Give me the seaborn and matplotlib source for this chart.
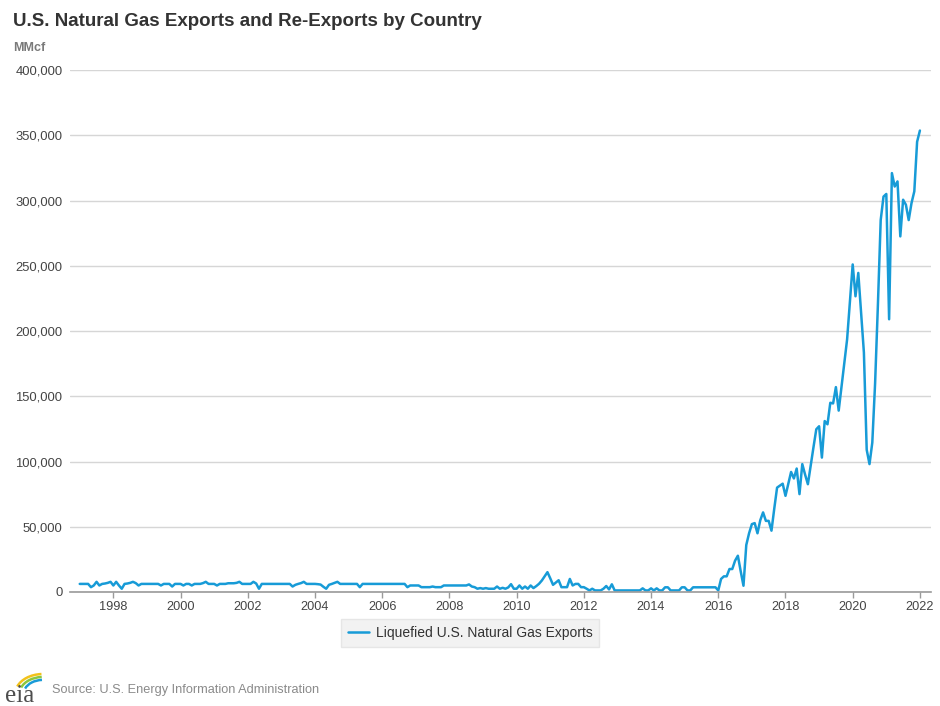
import pandas as pd
import seaborn as sns
import matplotlib.pyplot as plt
from matplotlib.patches import Arc

# Monthly liquefied U.S. natural gas exports, MMcf
lng_1997 = [6200, 6200, 6200, 6200, 3700, 5000, 7800, 5000, 6200, 6500, 7000, 7800]
lng_1998 = [5000, 7800, 5000, 2500, 6200, 6500, 7000, 7800, 6800, 5000, 6200, 6200]
lng_1999 = [6200, 6200, 6200, 6200, 6200, 5000, 6200, 6200, 6200, 4200, 6200, 6200]
lng_2000 = [6200, 5000, 6200, 6200, 5000, 6200, 6200, 6200, 6800, 7800, 6200, 6200]
lng_2001 = [6200, 5000, 6200, 6200, 6200, 6700, 6700, 6700, 7000, 7800, 6200, 6200]
lng_2002 = [6200, 6200, 7800, 6500, 2500, 6200, 6200, 6200, 6200, 6200, 6200, 6200]
lng_2003 = [6200, 6200, 6200, 6200, 4200, 5500, 6200, 6800, 7800, 6200, 6200, 6200]
lng_2004 = [6200, 6000, 5700, 4000, 2500, 5500, 6200, 7000, 7800, 6200, 6200, 6200]
lng_2005 = [6200, 6200, 6200, 6200, 3700, 6200, 6200, 6200, 6200, 6200, 6200, 6200]
lng_2006 = [6200, 6200, 6200, 6200, 6200, 6200, 6200, 6200, 6200, 3700, 5000, 5000]
lng_2007 = [5000, 5000, 3700, 3700, 3700, 3700, 4200, 3700, 3700, 3700, 5000, 5000]
lng_2008 = [5000, 5000, 5000, 5000, 5000, 5000, 5000, 5800, 4200, 3700, 2500, 3000]
lng_2009 = [2500, 3000, 2500, 2500, 2500, 4200, 2500, 3200, 2500, 3500, 6000, 2500]
lng_2010 = [2500, 5000, 2500, 4200, 2500, 5000, 3000, 4500, 6300, 8800, 12000, 15200]
lng_2011 = [10500, 5500, 7200, 9000, 3700, 3700, 3700, 10000, 5000, 6200, 6200, 3700]
lng_2012 = [3700, 2500, 1200, 2500, 1200, 1200, 1200, 2500, 4600, 2000, 5900, 1200]
lng_2013 = [1200, 1200, 1200, 1200, 1200, 1200, 1200, 1200, 1200, 2800, 1200, 1200]
lng_2014 = [2800, 1200, 2800, 1200, 1200, 3600, 3600, 1200, 1200, 1200, 1200, 3600]
lng_2015 = [3600, 1200, 1200, 3600, 3600, 3600, 3600, 3600, 3600, 3600, 3600, 3600]
lng_2016 = [1200, 10000, 12000, 12000, 17600, 17600, 24000, 27800, 16000, 4800, 36000, 45000]
lng_2017 = [52000, 52800, 45000, 55000, 61000, 54500, 54500, 47000, 64000, 80000, 81500, 83000]
lng_2018 = [73700, 83000, 92000, 87000, 94600, 75000, 98000, 90000, 82600, 97000, 111000, 124700]
lng_2019 = [127000, 103000, 131000, 128500, 145000, 144500, 157000, 139000, 157000, 175000, 193500, 222000]
lng_2020 = [251000, 226600, 244500, 214000, 183500, 109000, 98000, 114500, 160000, 220000, 285000, 303000]
lng_2021 = [305000, 209000, 321000, 310700, 314600, 272500, 300600, 296700, 285000, 298000, 307000, 345000]
lng_2022 = [353600]

series_name = 'Liquefied U.S. Natural Gas Exports'
x_ticks = list(range(1998, 2023, 2))
y_ticks = list(range(0, 400001, 50000))

values = (lng_1997 + lng_1998 + lng_1999 + lng_2000 + lng_2001 + lng_2002 + lng_2003
          + lng_2004 + lng_2005 + lng_2006 + lng_2007 + lng_2008 + lng_2009 + lng_2010
          + lng_2011 + lng_2012 + lng_2013 + lng_2014 + lng_2015 + lng_2016 + lng_2017
          + lng_2018 + lng_2019 + lng_2020 + lng_2021 + lng_2022)
dates = pd.date_range('1997-01-01', periods=len(values), freq='MS')
df = pd.DataFrame({'date': dates, 'MMcf': values})
# decimal year so the ticks land on January of each year
df['year'] = df['date'].dt.year + (df['date'].dt.month - 1) / 12

sns.set_style('white')
plt.rcParams['font.family'] = ['Liberation Sans', 'DejaVu Sans']

W, H = 940, 706
fig = plt.figure(figsize=(W / 100, H / 100), dpi=100)
ax = fig.add_axes([70 / W, (H - 592) / H, 861 / W, 522 / H])

sns.lineplot(data=df, x='year', y='MMcf', ax=ax, color='#179bd7', linewidth=1.8,
             label=series_name)

ax.set_xlim(1996.71, 2022.33)
ax.set_ylim(0, 400000)
ax.set_xticks(x_ticks)
ax.set_xticklabels([str(t) for t in x_ticks])
ax.set_yticks(y_ticks)
ax.set_yticklabels([f'{t:,}' for t in y_ticks])
ax.set_xlabel('')
ax.set_ylabel('')

ax.grid(axis='y', color='#d6d6d6', linewidth=1)
ax.set_axisbelow(True)
for side in ['left', 'right', 'top']:
    ax.spines[side].set_visible(False)
ax.spines['bottom'].set_color('#9a9a9a')
ax.spines['bottom'].set_linewidth(1.2)
ax.tick_params(axis='y', length=0, pad=5.5, labelsize=9.4, labelcolor='#444444')
ax.tick_params(axis='x', length=4.5, width=1, color='#9a9a9a', direction='out',
               pad=2, labelsize=9.2, labelcolor='#444444', bottom=True)

# legend box under the plot
ax.legend(loc='center', bbox_to_anchor=(470 / W, 1 - 633 / H), bbox_transform=fig.transFigure,
          frameon=True, fancybox=False, facecolor='#efefef', edgecolor='#e2e2e2',
          fontsize=10, handlelength=1.5, handletextpad=0.5, borderpad=0.5,
          labelcolor='#333333')

# titles
fig.text(13 / W, 1 - 21 / H, 'U.S. Natural Gas Exports and Re-Exports by Country',
         fontsize=13.5, fontweight='bold', color='#333333', va='center', ha='left')
fig.text(13 / W, 1 - 48 / H, 'MMcf', fontsize=9, fontweight='bold', color='#7a7a7a',
         va='center', ha='left')
fig.text(52 / W, 1 - 690 / H, 'Source: U.S. Energy Information Administration',
         fontsize=9.2, color='#8a8a8a', va='center', ha='left')

# small eia logo
logo = fig.add_axes([2 / W, 0, 42 / W, 42 / H])
logo.set_xlim(0, 1)
logo.set_ylim(0, 1)
logo.axis('off')
logo.text(0.06, 0.24, 'eia', fontsize=18, family='Liberation Serif', color='#4d4d4d',
          va='center', ha='left')
for r, c in [(0.66, '#f2c21b'), (0.56, '#8cc63f'), (0.46, '#1a9bd7')]:
    logo.add_patch(Arc((0.98, 0.3), 2 * r, 1.4 * r, theta1=95, theta2=165, color=c, lw=1.8))

plt.savefig('out.png', dpi=100)
